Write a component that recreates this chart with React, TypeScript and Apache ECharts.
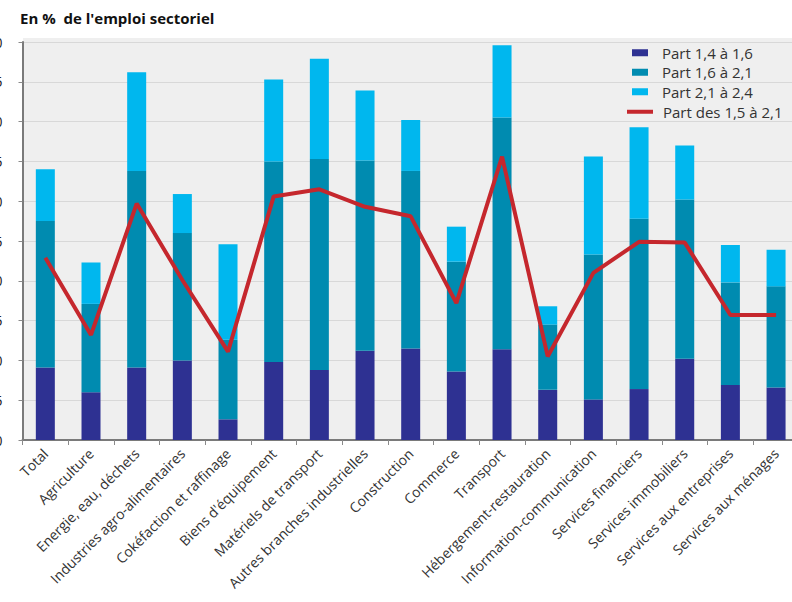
import React, { useEffect, useRef } from "react";
import * as echarts from "echarts";

const categories = [
  "Total",
  "Agriculture",
  "Energie, eau, déchets",
  "Industries agro-alimentaires",
  "Cokéfaction et raffinage",
  "Biens d'équipement",
  "Matériels de transport",
  "Autres branches industrielles",
  "Construction",
  "Commerce",
  "Transport",
  "Hébergement-restauration",
  "Information-communication",
  "Services financiers",
  "Services immobiliers",
  "Services aux entreprises",
  "Services aux ménages",
];

const part14to16 = [9.1, 6.0, 9.1, 10.0, 2.6, 9.8, 8.8, 11.2, 11.5, 8.6, 11.4, 6.3, 5.1, 6.4, 10.2, 6.9, 6.6];
const part16to21 = [18.4, 11.1, 24.7, 16.0, 10.0, 25.2, 26.5, 23.9, 22.3, 13.8, 29.1, 8.2, 18.2, 21.4, 20.0, 12.9, 12.7];
const part21to24 = [6.5, 5.2, 12.4, 4.9, 12.0, 10.3, 12.6, 8.8, 6.4, 4.4, 9.1, 2.3, 12.3, 11.5, 6.8, 4.7, 4.6];
const part15to21 = [22.9, 13.2, 29.7, 20.1, 11.1, 30.6, 31.5, 29.3, 28.1, 17.2, 35.6, 10.5, 21.0, 24.9, 24.8, 15.7, 15.7];

const seriesNames = ["Part 1,4 à 1,6", "Part 1,6 à 2,1", "Part 2,1 à 2,4", "Part des 1,5 à 2,1"];
const title = "En %  de l'emploi sectoriel";

const FONT = "'Open Sans', Lato, sans-serif";

export default function App() {
  const ref = useRef<HTMLDivElement>(null);

  useEffect(() => {
    if (!ref.current) return;
    const chart = echarts.init(ref.current, null, { renderer: "svg" });
    const colors = ["#2e3192", "#008bb0", "#00b7ee", "#c5272d"];
    const barData = [part14to16, part16to21, part21to24];
    chart.setOption({
      animation: false,
      backgroundColor: "#ffffff",
      textStyle: { fontFamily: FONT },
      title: {
        text: title,
        left: 15,
        top: 5,
        textStyle: { fontFamily: FONT, fontSize: 15, fontWeight: "bold", color: "#111" },
      },
      graphic: [
        {
          type: "rect",
          left: 23,
          top: 38,
          shape: { width: 777, height: 5 },
          style: { fill: "#efefef" },
          z: -1,
          silent: true,
        },
      ],
      legend: [
        {
          data: seriesNames.slice(0, 3),
          orient: "vertical",
          left: 632,
          top: 43,
          padding: 0,
          itemGap: 0,
          itemWidth: 16,
          itemHeight: 7,
          icon: "rect",
          textStyle: {
            fontFamily: FONT,
            fontSize: 15,
            color: "#333",
            lineHeight: 19.5,
            padding: [0, 0, 0, 9],
          },
        },
        {
          data: [seriesNames[3]],
          orient: "vertical",
          left: 627,
          top: 102,
          padding: 0,
          itemWidth: 26,
          itemHeight: 4,
          icon: "rect",
          textStyle: {
            fontFamily: FONT,
            fontSize: 15,
            color: "#333",
            lineHeight: 19.5,
            padding: [0, 0, 0, 5],
          },
        },
      ],
      grid: {
        left: 22.5,
        top: 42,
        width: 776.4,
        height: 398,
        outerBoundsMode: "none",
        containLabel: false,
        show: true,
        backgroundColor: "#efefef",
        borderWidth: 0,
      },
      xAxis: {
        type: "category",
        data: categories,
        boundaryGap: true,
        axisLine: { lineStyle: { color: "#7a7a7a", width: 2 } },
        axisTick: { show: true, length: 5, lineStyle: { color: "#8a8a8a" } },
        axisLabel: {
          interval: 0,
          rotate: 45,
          margin: 11,
          fontFamily: FONT,
          fontSize: 14,
          color: "#333",
        },
      },
      yAxis: {
        type: "value",
        min: 0,
        max: 50,
        interval: 5,
        axisLine: { show: true, lineStyle: { color: "#7a7a7a", width: 2 } },
        axisTick: { show: true, length: 4, lineStyle: { color: "#8a8a8a" } },
        splitLine: { lineStyle: { color: "#d8d8d8", width: 1 } },
        axisLabel: { margin: 20, fontFamily: FONT, fontSize: 14, color: "#222" },
      },
      series: [
        ...barData.map((d, i) => ({
          name: seriesNames[i],
          type: "bar",
          stack: "total",
          barWidth: 19,
          data: d,
          itemStyle: { color: colors[i] },
        })),
        {
          name: seriesNames[3],
          type: "line",
          data: part15to21,
          symbol: "none",
          lineStyle: { color: colors[3], width: 4 },
          itemStyle: { color: colors[3] },
          z: 5,
        },
      ],
    });
    return () => chart.dispose();
  }, []);

  return (
    <div
      ref={ref}
      style={{ position: "absolute", left: 0, top: 0, width: 792, height: 602 }}
    />
  );
}
